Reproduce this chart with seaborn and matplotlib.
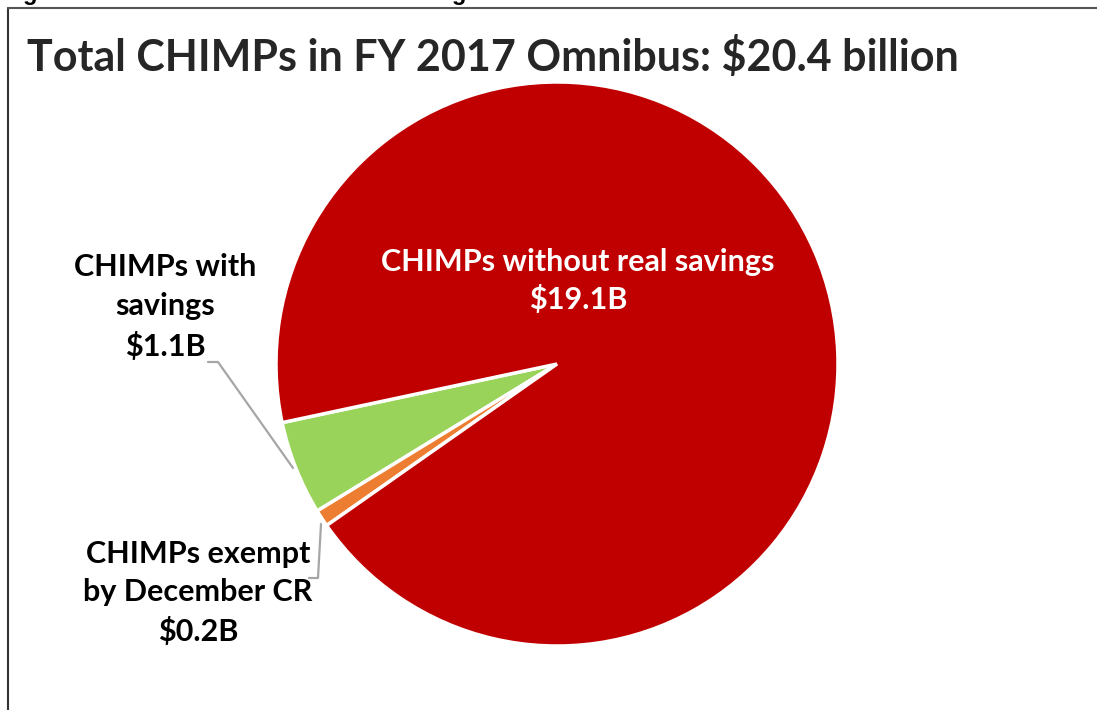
import matplotlib
matplotlib.use("Agg")
import matplotlib.pyplot as plt
from matplotlib.lines import Line2D
import seaborn as sns

# data
categories = ["CHIMPs with savings", "CHIMPs exempt by December CR", "CHIMPs without real savings"]
values = [1.1, 0.2, 19.1]   # $ billions
labels = ["CHIMPs with\nsavings\n$1.1B",
          "CHIMPs exempt\nby December CR\n$0.2B",
          "CHIMPs without real savings\n$19.1B"]
colors = ["#99D35A", "#ED7D31", "#C00000"]
title = "Total CHIMPs in FY 2017 Omnibus: $20.4 billion"
header = "Fig. 10: Most CHIMPs Produce No Savings"

sns.set_style("white")
plt.rcParams["font.family"] = ["Lato", "DejaVu Sans"]

W, H = 1097, 710
fig = plt.figure(figsize=(W / 100, H / 100), dpi=100)

# pie centre / radii in pixels (top-left origin)
cx, cy, rx, ry = 557, 364, 281, 282
ax = fig.add_axes([(cx - rx) / W, 1 - (cy + ry) / H, 2 * rx / W, 2 * ry / H])
ax.pie(values, colors=colors, startangle=192, counterclock=True,
       wedgeprops=dict(edgecolor="white", linewidth=2.5))
ax.set_aspect("auto")
ax.set_xlim(-1, 1)
ax.set_ylim(-1, 1)
ax.axis("off")


def d(px, py):
    return (px - cx) / rx, (cy - py) / ry


# labels
ax.text(*d(578, 281), labels[2], color="white", fontsize=22, fontweight="bold",
        ha="center", va="center", linespacing=1.4)
ax.text(*d(165, 307), labels[0], color="black", fontsize=22, fontweight="bold",
        ha="center", va="center", linespacing=1.5, clip_on=False)
ax.text(*d(198, 593), labels[1], color="black", fontsize=22, fontweight="bold",
        ha="center", va="center", linespacing=1.45, clip_on=False)

# leader lines
for pts in ([(208, 362), (218, 362), (293, 468)],
            [(321, 524), (318, 578), (309, 578)]):
    xs, ys = zip(*[d(*p) for p in pts])
    ax.plot(xs, ys, color="#A6A6A6", lw=1.6, clip_on=False)

# title and cut-off header
fig.text(27 / W, 1 - 57 / H, title, fontsize=31, fontweight="bold",
         color="#262626", ha="left", va="center")
fig.text(0.002, 1 - 5 / H, header, fontsize=17, fontweight="bold",
         family=["Liberation Sans"], color="black", ha="left", va="bottom")

# frame (left and top edges visible)
fig.add_artist(Line2D([8 / W, 8 / W], [0, 1 - 8 / H], color="#333333", lw=1.5))
fig.add_artist(Line2D([8 / W, 1], [1 - 8 / H, 1 - 8 / H], color="#555555", lw=1.5))

fig.savefig("out.png", dpi=100, facecolor="white")
